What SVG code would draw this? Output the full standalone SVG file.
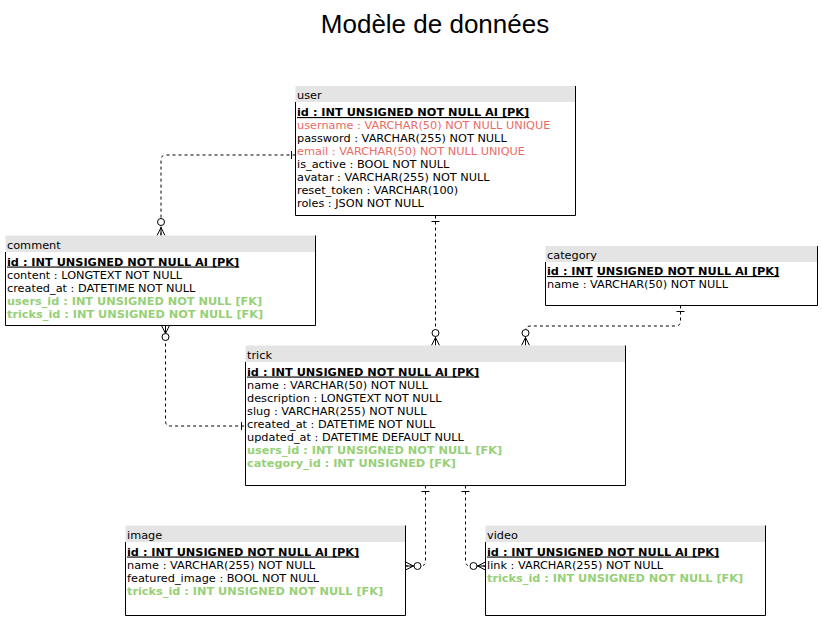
<svg xmlns="http://www.w3.org/2000/svg" width="822" height="621" viewBox="0 0 822 621">
<style>
.bg{fill:#ffffff}
.hdr{fill:#e4e4e4;stroke:none}
.brd{fill:none;stroke:#000000;stroke-width:1}
.t{font-family:"DejaVu Sans",Verdana,sans-serif;font-size:11.3px;fill:#000000}
.pk{font-weight:bold;text-decoration:underline}
.fk{font-weight:bold;fill:#97D077}
.uq{fill:#EA6B66}
.title{font-family:"Liberation Sans",Arial,sans-serif;font-size:26px;fill:#000000}
.ln{fill:none;stroke:#000000;stroke-width:1;stroke-dasharray:3 3}
.mk{fill:none;stroke:#000000;stroke-width:1}
.circ{fill:#ffffff;stroke:#000000;stroke-width:1}
</style>
<rect class="bg" x="0" y="0" width="822" height="621"/>
<text class="title" x="435" y="33" text-anchor="middle">Modèle de données</text>

<g id="connectors">
  <!-- user - comment -->
  <path class="ln" d="M295.5,155 H166 Q161,155 161,160 V235.5"/>
  <path class="mk" d="M291.5,151 V159 M157,235.5 L161,227.5 L165,235.5 M161,227.5 V235.5"/>
  <circle class="circ" cx="161" cy="222" r="3.5"/>
  <!-- comment - trick -->
  <path class="ln" d="M165.5,325.5 V421 Q165.5,426 170.5,426 H245.5"/>
  <path class="mk" d="M241.5,422 V430 M161.5,325.5 L165.5,333.5 L169.5,325.5 M165.5,325.5 V333.5"/>
  <circle class="circ" cx="165.5" cy="337" r="3.5"/>
  <!-- user - trick -->
  <path class="ln" d="M435.5,215.5 V345.5"/>
  <path class="mk" d="M431.5,221.5 H439.5 M431.5,345.5 L435.5,337.5 L439.5,345.5 M435.5,337.5 V345.5"/>
  <circle class="circ" cx="435.5" cy="333" r="3.5"/>
  <!-- category - trick -->
  <path class="ln" d="M680.5,305.5 V321 Q680.5,326 675.5,326 H530.5 Q525.5,326 525.5,331 V345.5"/>
  <path class="mk" d="M676.5,311.5 H684.5 M521.5,345.5 L525.5,337.5 L529.5,345.5 M525.5,337.5 V345.5"/>
  <circle class="circ" cx="525.5" cy="333" r="3.5"/>
  <!-- trick - image -->
  <path class="ln" d="M425.5,485.5 V561 Q425.5,566 420.5,566 H405.5"/>
  <path class="mk" d="M421.5,491.5 H429.5 M405.5,562 L413.5,566 L405.5,570 M405.5,566 H413.5"/>
  <circle class="circ" cx="417.5" cy="566" r="3.5"/>
  <!-- trick - video -->
  <path class="ln" d="M465.5,485.5 V561 Q465.5,566 470.5,566 H485.5"/>
  <path class="mk" d="M461.5,491.5 H469.5 M485.5,562 L477.5,566 L485.5,570 M477.5,566 H485.5"/>
  <circle class="circ" cx="473.5" cy="566" r="3.5"/>
</g>

<g id="user">
  <rect class="hdr" x="295.5" y="86" width="280" height="16"/>
  <path class="brd" d="M295.5,102 V215.5 H575.5 V86"/>
  <text class="t" x="297" y="99">user</text>
  <text class="t pk" x="297" y="116">id : INT UNSIGNED NOT NULL AI [PK]</text>
  <text class="t uq" x="297" y="129">username : VARCHAR(50) NOT NULL UNIQUE</text>
  <text class="t" x="297" y="142">password : VARCHAR(255) NOT NULL</text>
  <text class="t uq" x="297" y="155">email : VARCHAR(50) NOT NULL UNIQUE</text>
  <text class="t" x="297" y="168">is_active : BOOL NOT NULL</text>
  <text class="t" x="297" y="181">avatar : VARCHAR(255) NOT NULL</text>
  <text class="t" x="297" y="194">reset_token : VARCHAR(100)</text>
  <text class="t" x="297" y="207">roles : JSON NOT NULL</text>
</g>

<g id="comment">
  <rect class="hdr" x="5.5" y="235.5" width="310" height="16.5"/>
  <path class="brd" d="M5.5,252 V325.5 H315.5 V235.5"/>
  <text class="t" x="7" y="248.5">comment</text>
  <text class="t pk" x="7" y="265.5">id : INT UNSIGNED NOT NULL AI [PK]</text>
  <text class="t" x="7" y="278.5">content : LONGTEXT NOT NULL</text>
  <text class="t" x="7" y="291.5">created_at : DATETIME NOT NULL</text>
  <text class="t fk" x="7" y="304.5">users_id : INT UNSIGNED NOT NULL [FK]</text>
  <text class="t fk" x="7" y="317.5">tricks_id : INT UNSIGNED NOT NULL [FK]</text>
</g>

<g id="category">
  <rect class="hdr" x="545.5" y="246" width="272" height="16"/>
  <path class="brd" d="M545.5,262 V305.5 H817.5 V246"/>
  <text class="t" x="547" y="259">category</text>
  <text class="t" x="547" y="275" font-weight="bold"><tspan text-decoration="underline">id : INT</tspan> <tspan text-decoration="underline">UNSIGNED NOT NULL AI [PK]</tspan></text>
  <text class="t" x="547" y="288">name : VARCHAR(50) NOT NULL</text>
</g>

<g id="trick">
  <rect class="hdr" x="245.5" y="345.5" width="380" height="16.5"/>
  <path class="brd" d="M245.5,362 V485.5 H625.5 V345.5"/>
  <text class="t" x="247" y="358.5">trick</text>
  <text class="t pk" x="247" y="375.5">id : INT UNSIGNED NOT NULL AI [PK]</text>
  <text class="t" x="247" y="388.5">name : VARCHAR(50) NOT NULL</text>
  <text class="t" x="247" y="401.5">description : LONGTEXT NOT NULL</text>
  <text class="t" x="247" y="414.5">slug : VARCHAR(255) NOT NULL</text>
  <text class="t" x="247" y="427.5">created_at : DATETIME NOT NULL</text>
  <text class="t" x="247" y="440.5">updated_at : DATETIME DEFAULT NULL</text>
  <text class="t fk" x="247" y="453.5">users_id : INT UNSIGNED NOT NULL [FK]</text>
  <text class="t fk" x="247" y="466.5">category_id : INT UNSIGNED [FK]</text>
</g>

<g id="image">
  <rect class="hdr" x="125.5" y="525.5" width="280" height="16.5"/>
  <path class="brd" d="M125.5,542 V615.5 H405.5 V525.5"/>
  <text class="t" x="127" y="538.5">image</text>
  <text class="t pk" x="127" y="555.5">id : INT UNSIGNED NOT NULL AI [PK]</text>
  <text class="t" x="127" y="568.5">name : VARCHAR(255) NOT NULL</text>
  <text class="t" x="127" y="581.5">featured_image : BOOL NOT NULL</text>
  <text class="t fk" x="127" y="594.5">tricks_id : INT UNSIGNED NOT NULL [FK]</text>
</g>

<g id="video">
  <rect class="hdr" x="485.5" y="525.5" width="280" height="16.5"/>
  <path class="brd" d="M485.5,542 V615.5 H765.5 V525.5"/>
  <text class="t" x="487" y="538.5">video</text>
  <text class="t pk" x="487" y="555.5">id : INT UNSIGNED NOT NULL AI [PK]</text>
  <text class="t" x="487" y="568.5">link : VARCHAR(255) NOT NULL</text>
  <text class="t fk" x="487" y="581.5">tricks_id : INT UNSIGNED NOT NULL [FK]</text>
</g>
</svg>
